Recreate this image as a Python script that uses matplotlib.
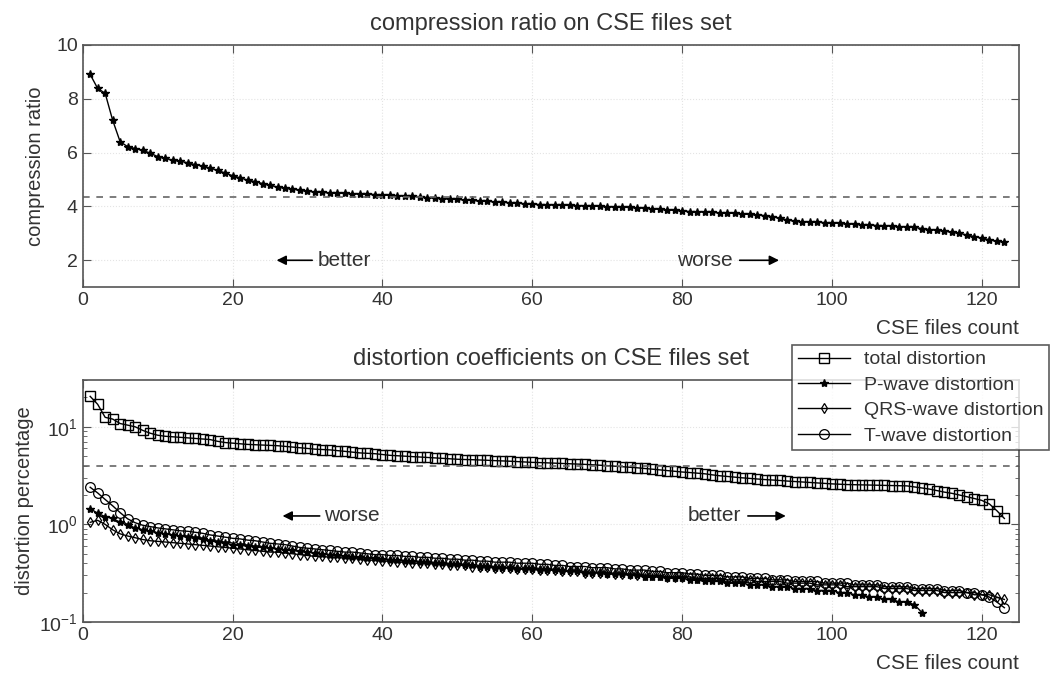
import numpy as np
import matplotlib
matplotlib.use("Agg")
import matplotlib.pyplot as plt

plt.rcParams['font.family'] = ['Liberation Sans', 'DejaVu Sans']
plt.rcParams['mathtext.fontset'] = 'custom'
plt.rcParams['mathtext.rm'] = 'Liberation Sans'
plt.rcParams['font.size'] = 14

# compression ratio per CSE file (sorted)
compression = [8.90, 8.38, 8.20, 7.20, 6.40, 6.22, 6.15, 6.08, 5.98, 5.85,
               5.78, 5.72, 5.68, 5.62, 5.55, 5.50, 5.42, 5.34, 5.24, 5.14,
               5.06, 4.98, 4.92, 4.85, 4.78, 4.72, 4.68, 4.64, 4.60, 4.56,
               4.54, 4.52, 4.50, 4.49, 4.48, 4.47, 4.46, 4.45, 4.44, 4.42,
               4.41, 4.40, 4.38, 4.37, 4.35, 4.33, 4.31, 4.29, 4.28, 4.26,
               4.24, 4.22, 4.20, 4.19, 4.17, 4.15, 4.14, 4.12, 4.10, 4.08,
               4.07, 4.06, 4.05, 4.04, 4.04, 4.03, 4.02, 4.01, 4.00, 3.99,
               3.98, 3.97, 3.96, 3.95, 3.93, 3.91, 3.89, 3.87, 3.85, 3.83,
               3.81, 3.80, 3.79, 3.78, 3.76, 3.75, 3.74, 3.72, 3.70, 3.68,
               3.66, 3.62, 3.56, 3.50, 3.45, 3.43, 3.42, 3.41, 3.40, 3.39,
               3.37, 3.35, 3.34, 3.32, 3.31, 3.29, 3.28, 3.27, 3.25, 3.24,
               3.22, 3.18, 3.14, 3.12, 3.08, 3.04, 3.00, 2.94, 2.88, 2.82,
               2.76, 2.70, 2.68]
compression_ref = 4.36

# distortion percentages
total_dist = [20.5, 17.0, 12.5, 12.0, 10.8, 10.4, 10.0, 9.2, 8.6, 8.2,
              8.0, 7.9, 7.8, 7.7, 7.6, 7.5, 7.4, 7.1, 6.9, 6.8,
              6.7, 6.6, 6.55, 6.5, 6.45, 6.4, 6.3, 6.2, 6.1, 6.0,
              5.9, 5.85, 5.8, 5.7, 5.6, 5.5, 5.4, 5.35, 5.3, 5.2,
              5.1, 5.05, 5.0, 4.95, 4.9, 4.85, 4.8, 4.75, 4.7, 4.65,
              4.62, 4.6, 4.57, 4.54, 4.5, 4.47, 4.44, 4.4, 4.36, 4.32,
              4.3, 4.27, 4.24, 4.21, 4.18, 4.15, 4.12, 4.08, 4.04, 4.0,
              3.95, 3.9, 3.85, 3.8, 3.74, 3.68, 3.62, 3.56, 3.5, 3.44,
              3.4, 3.35, 3.3, 3.22, 3.15, 3.1, 3.05, 3.0, 2.96, 2.92,
              2.88, 2.85, 2.82, 2.78, 2.75, 2.72, 2.69, 2.66, 2.63, 2.6,
              2.58, 2.56, 2.55, 2.54, 2.53, 2.52, 2.51, 2.5, 2.49, 2.48,
              2.42, 2.36, 2.3, 2.22, 2.14, 2.08, 2.0, 1.92, 1.84, 1.76,
              1.62, 1.38, 1.15]
total_ref = 4.0

p_wave = [1.45, 1.30, 1.20, 1.15, 1.05, 0.98, 0.92, 0.88, 0.85, 0.82,
          0.80, 0.78, 0.76, 0.74, 0.72, 0.70, 0.68, 0.66, 0.64, 0.62,
          0.61, 0.60, 0.59, 0.58, 0.57, 0.56, 0.55, 0.54, 0.53, 0.52,
          0.51, 0.50, 0.49, 0.48, 0.47, 0.46, 0.46, 0.45, 0.45, 0.44,
          0.43, 0.43, 0.42, 0.42, 0.41, 0.41, 0.40, 0.40, 0.39, 0.39,
          0.38, 0.38, 0.37, 0.37, 0.36, 0.36, 0.36, 0.35, 0.35, 0.35,
          0.34, 0.34, 0.34, 0.33, 0.33, 0.33, 0.32, 0.32, 0.32, 0.31,
          0.31, 0.31, 0.30, 0.30, 0.29, 0.29, 0.29, 0.28, 0.28, 0.28,
          0.27, 0.27, 0.26, 0.26, 0.26, 0.25, 0.25, 0.25, 0.24, 0.24,
          0.24, 0.23, 0.23, 0.23, 0.22, 0.22, 0.22, 0.21, 0.21, 0.21,
          0.20, 0.20, 0.19, 0.19, 0.18, 0.18, 0.17, 0.17, 0.16, 0.16,
          0.15, 0.125]

qrs_wave = [1.05, 1.10, 1.00, 0.88, 0.80, 0.76, 0.73, 0.70, 0.68, 0.67,
            0.66, 0.65, 0.64, 0.63, 0.62, 0.61, 0.60, 0.59, 0.58, 0.57,
            0.56, 0.55, 0.54, 0.53, 0.52, 0.52, 0.51, 0.50, 0.49, 0.48,
            0.47, 0.47, 0.46, 0.46, 0.45, 0.45, 0.44, 0.43, 0.43, 0.42,
            0.42, 0.41, 0.41, 0.40, 0.40, 0.40, 0.39, 0.39, 0.38, 0.38,
            0.38, 0.37, 0.37, 0.37, 0.36, 0.36, 0.36, 0.35, 0.35, 0.35,
            0.34, 0.34, 0.34, 0.33, 0.33, 0.33, 0.32, 0.32, 0.32, 0.32,
            0.31, 0.31, 0.31, 0.30, 0.30, 0.30, 0.30, 0.29, 0.29, 0.29,
            0.29, 0.28, 0.28, 0.28, 0.28, 0.27, 0.27, 0.27, 0.27, 0.26,
            0.26, 0.26, 0.26, 0.25, 0.25, 0.25, 0.25, 0.24, 0.24, 0.24,
            0.24, 0.23, 0.23, 0.23, 0.23, 0.23, 0.22, 0.22, 0.22, 0.22,
            0.21, 0.21, 0.21, 0.21, 0.20, 0.20, 0.20, 0.20, 0.19, 0.19,
            0.19, 0.18, 0.17]

t_wave = [2.40, 2.10, 1.80, 1.55, 1.32, 1.14, 1.04, 0.98, 0.95, 0.92,
          0.90, 0.88, 0.86, 0.85, 0.83, 0.81, 0.78, 0.76, 0.74, 0.72,
          0.71, 0.69, 0.68, 0.66, 0.64, 0.63, 0.62, 0.60, 0.58, 0.57,
          0.56, 0.55, 0.54, 0.53, 0.52, 0.52, 0.51, 0.50, 0.49, 0.49,
          0.48, 0.48, 0.47, 0.47, 0.46, 0.46, 0.45, 0.45, 0.44, 0.44,
          0.43, 0.43, 0.42, 0.42, 0.41, 0.41, 0.41, 0.40, 0.40, 0.40,
          0.39, 0.39, 0.38, 0.38, 0.37, 0.37, 0.37, 0.36, 0.36, 0.36,
          0.35, 0.35, 0.34, 0.34, 0.34, 0.33, 0.33, 0.32, 0.32, 0.32,
          0.31, 0.31, 0.30, 0.30, 0.30, 0.29, 0.29, 0.29, 0.28, 0.28,
          0.28, 0.27, 0.27, 0.27, 0.26, 0.26, 0.26, 0.26, 0.25, 0.25,
          0.25, 0.25, 0.24, 0.24, 0.24, 0.24, 0.23, 0.23, 0.23, 0.23,
          0.22, 0.22, 0.22, 0.22, 0.21, 0.21, 0.21, 0.20, 0.20, 0.19,
          0.18, 0.16, 0.14]

x_all = np.arange(1, len(compression) + 1)
x_p = np.arange(1, len(p_wave) + 1)

axis_col = '#555555'
txt_col = '#333333'


def style_axes(ax):
    ax.set_xlim(0, 125)
    ax.set_xticks([0, 20, 40, 60, 80, 100, 120])
    ax.tick_params(direction='in', top=True, right=True, which='both',
                   colors=axis_col, labelcolor=txt_col, length=6, labelsize=14)
    ax.tick_params(which='minor', length=3)
    for s in ax.spines.values():
        s.set_color(axis_col)
        s.set_linewidth(1.2)
    ax.grid(True, linestyle=':', color='#e4e4e4', linewidth=0.8)


fig = plt.figure(figsize=(10.56, 6.79), dpi=100)

# top plot - compression ratio
ax1 = fig.add_axes([0.0783, 0.577, 0.887, 0.357])
ax1.plot(x_all, compression, '-*', color='black', markersize=6, linewidth=1.0)
ax1.axhline(compression_ref, color='#666666', linestyle='--', linewidth=1.2, dashes=(4, 4))
ax1.set_ylim(1, 10)
ax1.set_yticks([2, 4, 6, 8, 10])
style_axes(ax1)
ax1.set_title("compression ratio on CSE files set", fontsize=17, pad=11, color=txt_col)
ax1.set_ylabel("compression ratio", fontsize=14.5, color=txt_col, labelpad=8)
ax1.set_xlabel("CSE files count", loc='right', fontsize=15, labelpad=7, color=txt_col)
ax1.annotate("", xy=(25.5, 2.0), xytext=(31, 2.0),
             arrowprops=dict(arrowstyle='-|>', color='black', lw=1.2, mutation_scale=14))
ax1.text(31.3, 2.0, "better", va='center', ha='left', fontsize=15, color=txt_col)
ax1.text(86.8, 2.0, "worse", va='center', ha='right', fontsize=15, color=txt_col)
ax1.annotate("", xy=(93.3, 2.0), xytext=(87.3, 2.0),
             arrowprops=dict(arrowstyle='-|>', color='black', lw=1.2, mutation_scale=14))

# bottom plot - distortion coefficients
ax2 = fig.add_axes([0.0783, 0.084, 0.887, 0.356])
ax2.plot(x_all, total_dist, '-s', color='black', markersize=7, mfc='none',
         linewidth=1.0, markeredgewidth=1.0, label='total distortion')
ax2.plot(x_p, p_wave, '-*', color='black', markersize=6, linewidth=1.0,
         label='P-wave distortion')
ax2.plot(x_all, qrs_wave, '-d', color='black', markersize=5, mfc='none',
         linewidth=1.0, markeredgewidth=0.9, label='QRS-wave distortion')
ax2.plot(x_all, t_wave, '-o', color='black', markersize=7, mfc='none',
         linewidth=1.0, markeredgewidth=0.9, label='T-wave distortion')
ax2.axhline(total_ref, color='#666666', linestyle='--', linewidth=1.2, dashes=(4, 4))
ax2.set_yscale('log')
ax2.set_ylim(0.1, 30)
style_axes(ax2)
ax2.set_title("distortion coefficients on CSE files set", fontsize=17, pad=11, color=txt_col)
ax2.set_ylabel("distortion percentage", fontsize=14.5, color=txt_col, labelpad=4)
ax2.set_xlabel("CSE files count", loc='right', fontsize=15, labelpad=7, color=txt_col)
ax2.annotate("", xy=(26.3, 1.22), xytext=(32, 1.22),
             arrowprops=dict(arrowstyle='-|>', color='black', lw=1.2, mutation_scale=14))
ax2.text(32.2, 1.22, "worse", va='center', ha='left', fontsize=15, color=txt_col)
ax2.text(87.8, 1.22, "better", va='center', ha='right', fontsize=15, color=txt_col)
ax2.annotate("", xy=(94.2, 1.22), xytext=(88.4, 1.22),
             arrowprops=dict(arrowstyle='-|>', color='black', lw=1.2, mutation_scale=14))

leg = fig.legend(loc='upper left', bbox_to_anchor=(0.750, 0.492), fontsize=14,
                 frameon=True, fancybox=False, edgecolor='#333333',
                 handlelength=2.7, borderpad=0.3, labelspacing=0.4,
                 handletextpad=0.7, borderaxespad=0)
leg.get_frame().set_linewidth(1.2)
for t in leg.get_texts():
    t.set_color(txt_col)

fig.savefig("out.png", dpi=100)
